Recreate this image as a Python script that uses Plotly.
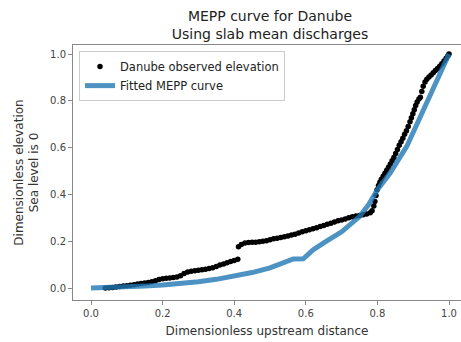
import plotly.graph_objects as go

# Observed elevation (dimensionless)
obs_x = [0.040, 0.050, 0.060, 0.070, 0.080, 0.090, 0.100, 0.110, 0.120, 0.130,
         0.140, 0.150, 0.160, 0.170, 0.180, 0.190, 0.200, 0.210, 0.220, 0.230,
         0.240, 0.250, 0.260, 0.270, 0.280, 0.290, 0.300, 0.310, 0.320, 0.330,
         0.340, 0.350, 0.360, 0.370, 0.380, 0.390, 0.400, 0.410,
         0.412, 0.420, 0.430, 0.440, 0.450, 0.460, 0.470, 0.480, 0.490, 0.500,
         0.510, 0.520, 0.530, 0.540, 0.550, 0.560, 0.570, 0.580, 0.590, 0.600,
         0.610, 0.620, 0.630, 0.640, 0.650, 0.660, 0.670, 0.680, 0.690, 0.700,
         0.710, 0.720, 0.730, 0.740, 0.750, 0.760, 0.770, 0.780, 0.785, 0.790,
         0.793, 0.796, 0.799, 0.803, 0.807, 0.811, 0.816, 0.821, 0.826, 0.831,
         0.836, 0.841, 0.846, 0.851, 0.856, 0.861, 0.866, 0.871, 0.876, 0.881,
         0.886, 0.891, 0.895, 0.899, 0.903, 0.907, 0.911, 0.916, 0.920, 0.924,
         0.928, 0.933, 0.938, 0.944, 0.950, 0.956, 0.962, 0.968, 0.974, 0.980,
         0.986, 0.992, 0.997, 1.000]
obs_y = [0.000, 0.001, 0.002, 0.004, 0.006, 0.008, 0.010, 0.012, 0.014, 0.017,
         0.019, 0.021, 0.024, 0.027, 0.031, 0.036, 0.039, 0.042, 0.043, 0.045,
         0.047, 0.052, 0.062, 0.068, 0.072, 0.074, 0.076, 0.078, 0.080, 0.083,
         0.086, 0.092, 0.098, 0.103, 0.108, 0.113, 0.118, 0.123,
         0.176, 0.186, 0.192, 0.194, 0.195, 0.196, 0.198, 0.200, 0.202, 0.206,
         0.210, 0.213, 0.216, 0.219, 0.222, 0.226, 0.230, 0.235, 0.240, 0.245,
         0.249, 0.253, 0.258, 0.263, 0.267, 0.272, 0.277, 0.282, 0.287, 0.291,
         0.295, 0.300, 0.304, 0.308, 0.310, 0.313, 0.316, 0.322, 0.330, 0.350,
         0.370, 0.395, 0.420, 0.438, 0.452, 0.465, 0.478, 0.490, 0.503, 0.516,
         0.530, 0.544, 0.558, 0.575, 0.592, 0.610, 0.625, 0.640, 0.657, 0.672,
         0.690, 0.710, 0.728, 0.745, 0.762, 0.780, 0.795, 0.808, 0.815, 0.840,
         0.862, 0.880, 0.892, 0.902, 0.910, 0.920, 0.930, 0.938, 0.948, 0.958,
         0.970, 0.982, 0.993, 1.000]

# Fitted MEPP curve
fit_x = [0.00, 0.05, 0.10, 0.15, 0.20, 0.25, 0.30, 0.35, 0.40, 0.45, 0.50, 0.54,
         0.565, 0.593, 0.62, 0.65, 0.70, 0.75, 0.775, 0.80, 0.835, 0.882, 0.913,
         0.942, 0.97, 1.00]
fit_y = [0.000, 0.001, 0.004, 0.008, 0.013, 0.019, 0.027, 0.037, 0.050, 0.066,
         0.086, 0.106, 0.124, 0.125, 0.163, 0.193, 0.240, 0.305, 0.355, 0.420,
         0.490, 0.605, 0.711, 0.805, 0.896, 1.000]

tick_vals = [0.0, 0.2, 0.4, 0.6, 0.8, 1.0]
tick_text = ["0.0", "0.2", "0.4", "0.6", "0.8", "1.0"]

font = "DejaVu Sans"
fig = go.Figure()
fig.add_trace(go.Scatter(x=obs_x, y=obs_y, mode="markers",
                         marker=dict(color="black", size=5.5, line=dict(width=0)),
                         name="Danube observed elevation"))
fig.add_trace(go.Scatter(x=fit_x, y=fit_y, mode="lines",
                         line=dict(color="rgba(31,119,180,0.8)", width=5),
                         name="Fitted MEPP curve"))

axis_common = dict(showgrid=False, zeroline=False, showline=True,
                   linecolor="#888888", linewidth=1, ticks="outside",
                   ticklen=4, tickcolor="#888888",
                   tickfont=dict(family=font, size=10, color="#444444"),
                   tickvals=tick_vals, ticktext=tick_text)

fig.update_layout(
    width=461, height=342,
    margin=dict(l=73, r=0, t=45, b=42),
    paper_bgcolor="white", plot_bgcolor="white",
    font=dict(family=font, size=12, color="#333333"),
    title=dict(text="MEPP curve for Danube<br>Using slab mean discharges",
               x=270 / 461, xanchor="center", xref="container",
               y=1 - 21 / 342, yanchor="middle", yref="container",
               font=dict(family=font, size=14, color="#222222")),
    xaxis=dict(range=[-0.0503, 1.0335], mirror=True,
               title=dict(text="Dimensionless upstream distance", standoff=8,
                          font=dict(family=font, size=12, color="#333333")),
               **axis_common),
    yaxis=dict(range=[-0.0513, 1.0385],
               title=dict(text="Dimensionless elevation<br>Sea level is 0", standoff=8,
                          font=dict(family=font, size=12, color="#333333")),
               **axis_common),
    legend=dict(x=0.0155, y=0.976, xanchor="left", yanchor="top",
                bgcolor="rgba(255,255,255,0.8)", bordercolor="#cccccc", borderwidth=1,
                font=dict(family=font, size=11.5, color="#222222"),
                tracegroupgap=0),
    showlegend=True,
)

fig.write_html("out.html")
